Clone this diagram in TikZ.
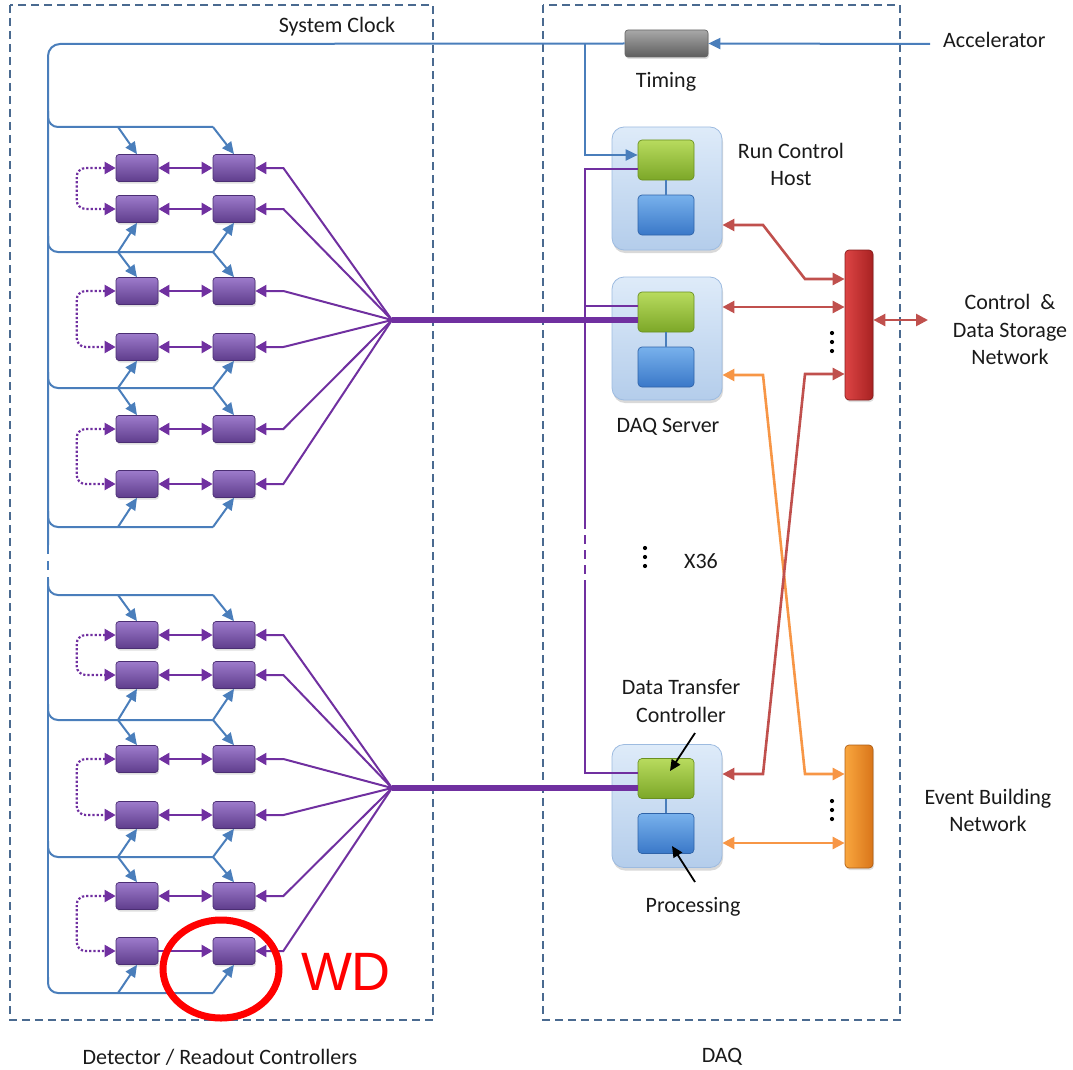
\documentclass[tikz,border=0pt]{standalone}
\usepackage{fontspec}
\setmainfont{Carlito}
\newfontfamily\wdfont{Liberation Sans}
\usetikzlibrary{arrows.meta,shadows,calc}
\definecolor{clk}{HTML}{4A7EBB}
\definecolor{pur}{HTML}{7030A0}
\definecolor{redl}{HTML}{C0504D}
\definecolor{orl}{HTML}{F79646}
\definecolor{dashc}{HTML}{4A6A90}
\definecolor{pTop}{HTML}{9D7BCB}
\definecolor{pBot}{HTML}{5F3D8C}
\definecolor{pBord}{HTML}{4B2E73}
\definecolor{gTop}{HTML}{B8DB5E}
\definecolor{gBot}{HTML}{7CA728}
\definecolor{gBord}{HTML}{6A9020}
\definecolor{bTop}{HTML}{78B1EC}
\definecolor{bBot}{HTML}{3A78C8}
\definecolor{bBord}{HTML}{2F63A8}
\definecolor{oTop}{HTML}{DEEBF9}
\definecolor{oBot}{HTML}{B4CDEB}
\definecolor{oBord}{HTML}{9DBBE0}
\definecolor{tTop}{HTML}{A8A8A8}
\definecolor{tBot}{HTML}{5E5E5E}
\definecolor{rL}{HTML}{DC4444}
\definecolor{rR}{HTML}{A82222}
\definecolor{orL}{HTML}{F9A63E}
\definecolor{orR}{HTML}{D9751A}
\definecolor{txtc}{HTML}{1A1A1A}
\tikzset{
  txt/.style={font=\fontsize{22}{27.5}\selectfont, text=txtc, align=center, inner sep=0pt},
  frame/.style={draw=dashc, line width=1.3pt, dash pattern=on 8pt off 5pt},
  pbox/.style={rounded corners=3pt, minimum width=42pt, minimum height=27pt, inner sep=0pt,
    top color=pTop, bottom color=pBot, draw=pBord, line width=0.7pt,
    drop shadow={opacity=0.25, shadow xshift=1pt, shadow yshift=-2pt}},
  gbox/.style={rounded corners=4pt, minimum width=56pt, minimum height=40pt, inner sep=0pt,
    top color=gTop, bottom color=gBot, draw=gBord, line width=0.7pt},
  bbox/.style={rounded corners=4pt, minimum width=56pt, minimum height=40pt, inner sep=0pt,
    top color=bTop, bottom color=bBot, draw=bBord, line width=0.7pt},
  obox/.style={rounded corners=12pt, minimum width=110pt, minimum height=123pt, inner sep=0pt,
    top color=oTop, bottom color=oBot, draw=oBord, line width=0.8pt,
    drop shadow={opacity=0.3, shadow xshift=1pt, shadow yshift=-3pt}},
  tbox/.style={rounded corners=3pt, minimum width=83pt, minimum height=27pt, inner sep=0pt,
    top color=tTop, bottom color=tBot, draw=black!60, line width=0.7pt,
    drop shadow={opacity=0.25, shadow xshift=1pt, shadow yshift=-2pt}},
  rbar/.style={rounded corners=4pt, minimum width=28pt, minimum height=150pt, inner sep=0pt,
    left color=rL, right color=rR, draw=rR!80!black, line width=0.7pt,
    drop shadow={opacity=0.25, shadow xshift=1pt, shadow yshift=-2pt}},
  obar/.style={rounded corners=4pt, minimum width=28pt, minimum height=123pt, inner sep=0pt,
    left color=orL, right color=orR, draw=orR!80!black, line width=0.7pt,
    drop shadow={opacity=0.25, shadow xshift=1pt, shadow yshift=-2pt}},
  clkl/.style={draw=clk, line width=2pt},
  clka/.style={clkl, -{Triangle[length=12pt,width=11pt]}},
  prow/.style={draw=pur, line width=2.4pt},
  ptip/.tip={Triangle[length=11pt,width=12pt]},
  pdot/.style={draw=pur, line width=2.2pt, dotted, rounded corners=9pt},
  pfan/.style={draw=pur, line width=2pt},
  pthick/.style={draw=pur, line width=6pt},
  pthin/.style={draw=pur, line width=2pt},
  rtip/.tip={Triangle[length=12pt,width=12pt]},
  redc/.style={draw=redl, line width=2.6pt, rtip-rtip},
  orc/.style={draw=orl, line width=2.6pt, rtip-rtip},
  blk/.style={draw=black, line width=1.8pt, -{Triangle[length=11pt,width=10pt]}},
}
\begin{document}
\begin{tikzpicture}[x=1pt,y=-1pt]
\useasboundingbox (0,0) rectangle (1073,1070);
% frames
\draw[frame] (10,5) rectangle (433,1020);
\draw[frame] (543,5) rectangle (900,1020);
\node[txt] (sysclk) at (337,27) {System Clock};
\node[txt] (detlbl) at (220,1057) {Detector / Readout Controllers};
\node[txt] (daqlbl) at (722,1057) {DAQ};
% timing
\node[tbox] (T) at (666.5,43.5) {};
\node[txt] (tlbl) at (666,82) {Timing};
\coordinate (acc) at (930,44);
\node[txt, anchor=west] (acclbl) at (943,40) {Accelerator};
% DAQ boxes
\node[obox] (RC) at (667,188.5) {};
\node[gbox] (RCg) at (666,160) {};
\node[bbox] (RCb) at (666,215) {};
\draw[draw=clk, line width=2pt] (RCg) -- (RCb);
\node[txt] (rclbl) at (791,164.5) {Run Control\\Host};
\node[obox] (DS) at (667,338.5) {};
\node[gbox] (DSg) at (666,312) {};
\node[bbox] (DSb) at (666,367) {};
\draw[draw=clk, line width=2pt] (DSg) -- (DSb);
\node[txt] (dslbl) at (668,427) {DAQ Server};
\node[obox] (DTC) at (667,806) {};
\node[gbox] (DTCg) at (666,778.5) {};
\node[bbox] (DTCb) at (666,833.5) {};
\draw[draw=clk, line width=2pt] (DTCg) -- (DTCb);
\node[txt] (dtclbl) at (681,701) {Data Transfer\\Controller};
\node[txt] (proclbl) at (693,907) {Processing};
\coordinate (a1) at (695,733);
\coordinate (a2) at (695,882);
\draw[blk] (a1) -- (670,771);
\draw[blk] (a2) -- (672,846);
% bars
\node[rbar] (RB) at (859,325) {};
\node[obar] (OB) at (859,806.5) {};
\foreach \yy in {333,342,351} \fill[black] (832,\yy) circle (2.1pt);
\foreach \yy in {801,810,819} \fill[black] (832,\yy) circle (2.1pt);
\foreach \yy in {548,557,566} \fill[black] (645,\yy) circle (2.1pt);
\node[txt] (x36) at (701,561) {X36};
\node[txt] (csn) at (1010,329.5) {Control~ \&\\Data Storage\\Network};
\node[txt] (ebn) at (988,810.5) {Event Building\\Network};
\coordinate (csx) at (928,320);
% purple boxes
\foreach \i/\y in {1/168,2/209,3/291,4/347,5/429,6/484,7/635,8/675,9/759,10/815,11/896,12/951} {
  \node[pbox] (L\i) at (137,\y) {};
  \node[pbox] (R\i) at (234,\y) {};
}
\foreach \i in {1,...,11} \draw[prow, ptip-ptip] (L\i) -- (R\i);
\draw[prow, -ptip] (L12) -- (R12);
\foreach \a/\b in {1/2,3/4,5/6,7/8,9/10,11/12}
  \draw[pdot, ptip-ptip] (L\a.west) -| ([xshift=-39pt]L\b.west) -- (L\b.west);
% clock network
\draw[clkl, rounded corners=12pt] (48,545) -- (48,44) -- (T.west);
\draw[clkl, dash pattern=on 9pt off 7pt] (48,545) -- (48,580);
\draw[clkl] (48,580) -- (48,980);
\foreach \yy in {127,252,388,527,595,720,857,993}
  \draw[clkl, rounded corners=10pt] (48,\yy-16) |- (213,\yy);
\draw[clka] (118,127) -- (L1.north);  \draw[clka] (213,127) -- (R1.north);
\draw[clka] (118,252) -- (L2.south);  \draw[clka] (213,252) -- (R2.south);
\draw[clka] (118,252) -- (L3.north);  \draw[clka] (213,252) -- (R3.north);
\draw[clka] (118,388) -- (L4.south);  \draw[clka] (213,388) -- (R4.south);
\draw[clka] (118,388) -- (L5.north);  \draw[clka] (213,388) -- (R5.north);
\draw[clka] (118,527) -- (L6.south);  \draw[clka] (213,527) -- (R6.south);
\draw[clka] (118,595) -- (L7.north);  \draw[clka] (213,595) -- (R7.north);
\draw[clka] (118,720) -- (L8.south);  \draw[clka] (213,720) -- (R8.south);
\draw[clka] (118,720) -- (L9.north);  \draw[clka] (213,720) -- (R9.north);
\draw[clka] (118,857) -- (L10.south); \draw[clka] (213,857) -- (R10.south);
\draw[clka] (118,857) -- (L11.north); \draw[clka] (213,857) -- (R11.north);
\draw[clka] (118,993) -- (L12.south); \draw[clka] (213,993) -- (R12.south);
\draw[clka] (acc) -- (T.east);
\draw[clka] (585,44) |- ([yshift=5pt]RCg.west);
% purple fan
\coordinate (hubU) at (392,320);
\coordinate (hubL) at (392,788);
\foreach \i in {1,...,6} \draw[pfan, ptip-] (R\i.east) -- ++(28,0) -- (hubU);
\foreach \i in {7,...,12} \draw[pfan, ptip-] (R\i.east) -- ++(28,0) -- (hubL);
\draw[pthick] (hubU) -- (DSg.west |- hubU);
\draw[pthick] (hubL) -- (DTCg.west |- hubL);
\draw[pthin] ([yshift=-9pt]RCg.west) -| (585,520);
\draw[pthin, dash pattern=on 9pt off 6pt] (585,520) -- (585,580);
\draw[pthin] (585,580) |- ([yshift=5.5pt]DTCg.west);
\draw[pthin] (585,306) -- ([yshift=6pt]DSg.west);
% red and orange links
\draw[redc] (RC.east |- 0,225) -- (763,225) -- (805,279) -- (RB.west |- 0,279);
\draw[redc] (DS.east |- 0,307) -- (RB.west |- 0,307);
\draw[orc] (DS.east |- 0,375) -- (763,375) -- (805,774) -- (OB.west |- 0,774);
\draw[redc] (RB.west |- 0,374) -- (805,374) -- (763,774) -- (DTC.east |- 0,774);
\draw[orc] (DTC.east |- 0,843) -- (OB.west |- 0,843);
\draw[redc] (RB.east |- csx) -- (csx);
% WD marker
\draw[draw=red, line width=7pt] (221,969) ellipse [x radius=58pt, y radius=49pt];
\node[font=\fontsize{54}{60}\selectfont\wdfont, text=red, inner sep=0pt] (wd) at (346,972) {WD};
\end{tikzpicture}
\end{document}
